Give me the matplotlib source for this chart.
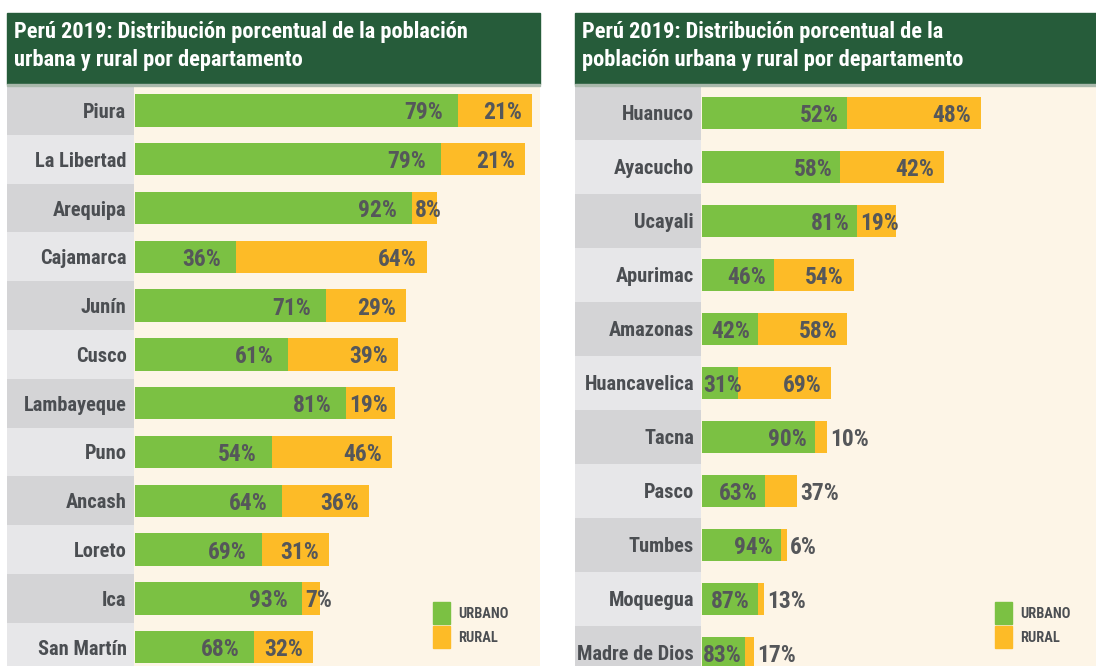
import matplotlib
matplotlib.use('Agg')
import matplotlib.pyplot as plt
from matplotlib import font_manager as fm
from matplotlib.patches import Rectangle

# pick a narrow / condensed sans if there is one
_names = {f.name for f in fm.fontManager.ttflist}
_narrow = [f.name for f in fm.fontManager.ttflist
           if 'condensed' in str(f.stretch) or 'narrow' in f.fname.lower()]
family = 'Roboto'
for cand in ['Liberation Sans Narrow', 'Roboto Condensed', 'Noto Sans Condensed',
             'DejaVu Sans Condensed', 'Open Sans Condensed']:
    if cand in _names:
        family = cand
        break
else:
    for cand in ['Roboto', 'Noto Sans', 'Open Sans', 'DejaVu Sans', 'Liberation Sans']:
        if cand in _narrow:
            family = cand
            break

plt.rcParams['font.family'] = [family, 'DejaVu Sans']
plt.rcParams['font.weight'] = 'bold'
plt.rcParams['font.stretch'] = 'condensed'

series = ['URBANO', 'RURAL']

title_left = ['Perú 2019: Distribución porcentual de la población',
              'urbana y rural por departamento']
dep_left = ['Piura', 'La Libertad', 'Arequipa', 'Cajamarca', 'Junín', 'Cusco',
            'Lambayeque', 'Puno', 'Ancash', 'Loreto', 'Ica', 'San Martín']
urb_left = [1667, 1579, 1431, 525, 988, 794, 1093, 708, 762, 656, 866, 618]
rur_left = [382, 434, 131, 982, 413, 565, 248, 618, 448, 346, 93, 301]
pct_urb_left = [79, 79, 92, 36, 71, 61, 81, 54, 64, 69, 93, 68]
pct_rur_left = [21, 21, 8, 64, 29, 39, 19, 46, 36, 31, 7, 32]

title_right = ['Perú 2019: Distribución porcentual de la',
               'población urbana y rural por departamento']
dep_right = ['Huanuco', 'Ayacucho', 'Ucayali', 'Apurimac', 'Amazonas', 'Huancavelica',
             'Tacna', 'Pasco', 'Tumbes', 'Moquegua', 'Madre de Dios']
urb_right = [394, 377, 423, 197, 154, 99, 308, 173, 214, 152, 118]
rur_right = [366, 283, 106, 217, 242, 254, 34, 86, 17, 17, 25]
pct_urb_right = [52, 58, 81, 46, 42, 31, 90, 63, 94, 87, 83]
pct_rur_right = [48, 42, 19, 54, 58, 69, 10, 37, 6, 13, 17]

# ---- colours ----
GREEN = '#7bc143'
ORANGE = '#fdbb27'
DARK = '#265c3a'
CREAM = '#fdf5e7'
STRIPES = ['#d4d4d6', '#e7e7e9']
TXT = '#4b4e52'
TXT_PCT = '#55575a'

W, H = 1096, 666
fig = plt.figure(figsize=(W / 100, H / 100), dpi=100)
fig.patch.set_facecolor('white')
rend = fig.canvas.get_renderer()


def fit_size(s, target_px, max_size):
    t = fig.text(0, 0, s, fontsize=10)
    w = t.get_window_extent(rend).width
    t.remove()
    return min(max_size, 10 * target_px / w)


FS_TITLE = fit_size(title_left[0], 455, 17)
FS_LAB = min(fit_size('La Libertad', 96, 20), fit_size('Madre de Dios', 117, 20))
FS_PCT = fit_size('79%', 39, 20)
FS_LEG = fit_size('URBANO', 50, 12)


def box(x0, y0, x1, y1):
    return [x0 / W, 1 - y1 / H, (x1 - x0) / W, (y1 - y0) / H]


def panel(x0, x1, xbar, xmax, row_h, title, names, urb, rur, pu, pr,
          gap_g, out_thresh, leg_x):
    # title band
    fig.patches.append(Rectangle((x0 / W, 1 - 84 / H), (x1 - x0) / W, 71 / H,
                                 transform=fig.transFigure, color=DARK))
    fig.patches.append(Rectangle((x0 / W, 1 - 86 / H), (x1 - x0) / W, 2 / H,
                                 transform=fig.transFigure, color='#a9b8ab'))
    fig.text((x0 + 7) / W, 1 - 38 / H, title[0], color='white', fontsize=FS_TITLE,
             va='baseline', ha='left')
    fig.text((x0 + 7) / W, 1 - 66 / H, title[1], color='white', fontsize=FS_TITLE,
             va='baseline', ha='left')

    ax = fig.add_axes(box(x0, 86, x1, H))
    ppu = (x1 - xbar) / xmax
    xmin = -(xbar - x0) / ppu
    ax.set_xlim(xmin, xmax)
    ax.set_ylim(-0.5 + (H - 86) / row_h, -0.5)
    ax.set_facecolor(CREAM)
    for s in ax.spines.values():
        s.set_visible(False)
    ax.set_xticks([])
    ax.set_yticks([])

    n = len(names)
    rows = list(range(n))
    ax.barh(rows, [-xmin - 1 / ppu] * n, left=xmin, height=1.0,
            color=[STRIPES[i % 2] for i in rows])
    bh = 32.5 / row_h
    ax.barh(rows, urb, height=bh, color=GREEN)
    ax.barh(rows, rur, left=urb, height=bh, color=ORANGE)

    for i, name in enumerate(names):
        ax.annotate(name, xy=(0, i), xytext=(-8, 0), textcoords='offset pixels',
                    ha='right', va='center_baseline', fontsize=FS_LAB, color=TXT)

    for i in rows:
        tg = ax.text(0, i, f'{pu[i]}%', ha='right', va='center_baseline',
                     fontsize=FS_PCT, color=TXT_PCT)
        tw = tg.get_window_extent(rend).width
        g_end = urb[i] * ppu
        tg.set_x(max(g_end - gap_g, tw + 1) / ppu)

        tr = ax.text(0, i, f'{pr[i]}%', ha='right', va='center_baseline',
                     fontsize=FS_PCT, color=TXT_PCT)
        tw = tr.get_window_extent(rend).width
        r_end = (urb[i] + rur[i]) * ppu
        if rur[i] * ppu < out_thresh:
            tr.set_ha('left')
            tr.set_x((r_end + 3) / ppu)
        else:
            tr.set_x(max(r_end - 10, g_end + 3 + tw) / ppu)

    # legend
    for k, (lab, col) in enumerate(zip(series, [GREEN, ORANGE])):
        y0 = 602 + k * 24
        fig.patches.append(Rectangle((leg_x / W, 1 - (y0 + 22) / H), 17 / W, 22 / H,
                                     transform=fig.transFigure, color=col))
        fig.text((leg_x + 25) / W, 1 - (y0 + 11) / H, lab, fontsize=FS_LEG,
                 color=TXT, va='center_baseline', ha='left')


panel(7, 540, 134.5, 2091, 48.8, title_left, dep_left, urb_left, rur_left,
      pct_urb_left, pct_rur_left, 15, 0, 433)
panel(575, W, 702, 1074, 54.0, title_right, dep_right, urb_right, rur_right,
      pct_urb_right, pct_rur_right, 8, 33, 995)

fig.savefig('out.png', dpi=100)
